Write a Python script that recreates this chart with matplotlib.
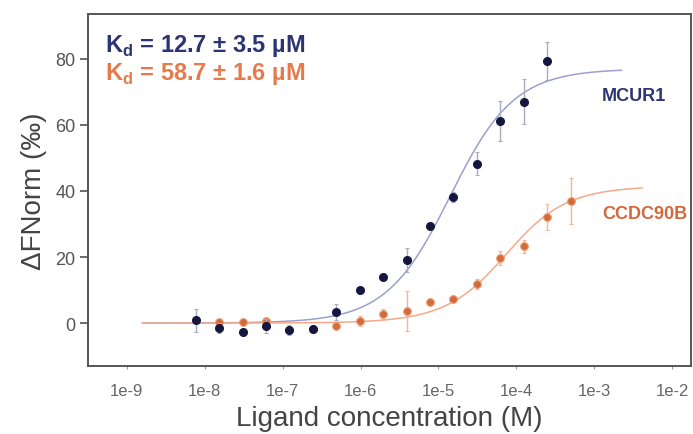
import numpy as np
import matplotlib
matplotlib.use("Agg")
import matplotlib.pyplot as plt

plt.rcParams['font.family'] = ['Liberation Sans', 'DejaVu Sans']
plt.rcParams['mathtext.fontset'] = 'custom'
plt.rcParams['mathtext.rm'] = 'Liberation Sans'
plt.rcParams['mathtext.bf'] = 'Liberation Sans:bold'

# ---- data (concentrations in µM) ----
mcur1_conc = [0.00763, 0.0153, 0.0305, 0.061, 0.122, 0.244, 0.488, 0.977,
              1.95, 3.91, 7.81, 15.6, 31.25, 62.5, 125, 250]
mcur1_val = [0.9, -1.5, -2.7, -0.9, -2.1, -1.8, 3.3, 10.0,
             13.9, 19.1, 29.4, 38.2, 48.2, 61.2, 67.0, 79.4]
mcur1_err = [3.5, 1.5, 1.0, 2.0, 1.5, 1.0, 2.5, 1.0,
             1.0, 3.5, 1.0, 1.5, 3.5, 6.0, 6.8, 5.8]

ccdc_conc = [0.0153, 0.0305, 0.061, 0.122, 0.244, 0.488, 0.977, 1.95,
             3.91, 7.81, 15.6, 31.25, 62.5, 125, 250, 500]
ccdc_val = [0.3, 0.3, 0.6, -2.1, -1.8, -0.9, 0.6, 2.7,
            3.6, 6.4, 7.3, 11.8, 19.7, 23.3, 32.1, 37.0]
ccdc_err = [1.0, 1.0, 1.0, 1.0, 1.0, 1.0, 1.5, 1.5,
            6.0, 1.0, 1.0, 1.5, 2.0, 2.0, 4.0, 7.0]

# fit parameters (µM, ‰)
mcur1_kd, mcur1_target, mcur1_amp = 12.7, 3.0, 77.0
ccdc_kd, ccdc_target, ccdc_amp = 58.7, 30.0, 41.5
mcur1_fit_range = (10**-8.8, 10**-2.65)
ccdc_fit_range = (10**-8.8, 10**-2.38)

xtick_pos = [1e-9, 1e-8, 1e-7, 1e-6, 1e-5, 1e-4, 1e-3, 1e-2]
xtick_labels = ['1e-9', '1e-8', '1e-7', '1e-6', '1e-5', '1e-4', '1e-3', '1e-2']
ytick_pos = [0, 20, 40, 60, 80]

NAVY = '#15173f'
NAVY_TXT = '#2c3472'
NAVY_LINE = '#9aa0cf'
ORANGE = '#d26a3a'
ORANGE_TXT = '#e77a4a'
ORANGE_LINE = '#f5a98a'


def kd_model(c_molar, kd, target, amp):
    c = np.asarray(c_molar) * 1e6
    s = c + target + kd
    f = (s - np.sqrt(s**2 - 4 * c * target)) / (2 * target)
    return amp * f


fig = plt.figure(figsize=(6.93, 4.35), dpi=100)
ax = fig.add_axes([88/693, 1-367/435, (691-88)/693, (367-15)/435])

for kd, tg, amp, rng, lcol in [
        (mcur1_kd, mcur1_target, mcur1_amp, mcur1_fit_range, NAVY_LINE),
        (ccdc_kd, ccdc_target, ccdc_amp, ccdc_fit_range, ORANGE_LINE)]:
    xs = np.logspace(np.log10(rng[0]), np.log10(rng[1]), 300)
    ax.plot(xs, kd_model(xs, kd, tg, amp), color=lcol, lw=1.1, zorder=2)

# points: orange first then navy on top
xc = np.array(ccdc_conc) * 1e-6
ax.errorbar(xc, ccdc_val, yerr=ccdc_err, fmt='o', ms=5.5, color=ORANGE,
            mec='#e89a70', mew=0.8, ecolor='#f3b596', elinewidth=1.0,
            capsize=1.5, capthick=0.8, zorder=3)
xm = np.array(mcur1_conc) * 1e-6
ax.errorbar(xm, mcur1_val, yerr=mcur1_err, fmt='o', ms=5.5, color=NAVY,
            mec=NAVY, ecolor='#a9abbf', elinewidth=1.0,
            capsize=1.5, capthick=0.8, zorder=4)

ax.set_xscale('log')
ax.set_xlim(10**-9.5, 10**-1.756)
ax.set_ylim(-13.0, 93.6)
ax.set_xticks(xtick_pos)
ax.set_xticklabels(xtick_labels)
ax.minorticks_off()
ax.set_yticks(ytick_pos)

for sp in ax.spines.values():
    sp.set_color('#555555')
    sp.set_linewidth(1.4)

ax.tick_params(axis='y', direction='out', length=6, width=1.2, color='#555555',
               labelsize=13, labelcolor='#555555', pad=3)
ax.tick_params(axis='x', direction='out', length=2, width=0.8, color='#999999',
               labelsize=12, labelcolor='#666666', pad=10)

ax.set_xlabel('Ligand concentration (M)', fontsize=20, color='#444444', labelpad=5)
ax.set_ylabel('ΔFNorm (‰)', fontsize=20, color='#444444', labelpad=6)

ax.text(105, 435-46, r'K$_{\mathbf{d}}$ = 12.7 ± 3.5 µM', transform=None,
        fontsize=17, fontweight='bold', color=NAVY_TXT, va='center', ha='left')
ax.text(105, 435-74, r'K$_{\mathbf{d}}$ = 58.7 ± 1.6 µM', transform=None,
        fontsize=17, fontweight='bold', color=ORANGE_TXT, va='center', ha='left')

ax.text(602, 435-97, 'MCUR1', transform=None, fontsize=13, fontweight='bold',
        color=NAVY_TXT, va='center', ha='left')
ax.text(602, 435-215, 'CCDC90B', transform=None, fontsize=13, fontweight='bold',
        color='#d3683c', va='center', ha='left', clip_on=False)

fig.savefig('out.png', dpi=100)
